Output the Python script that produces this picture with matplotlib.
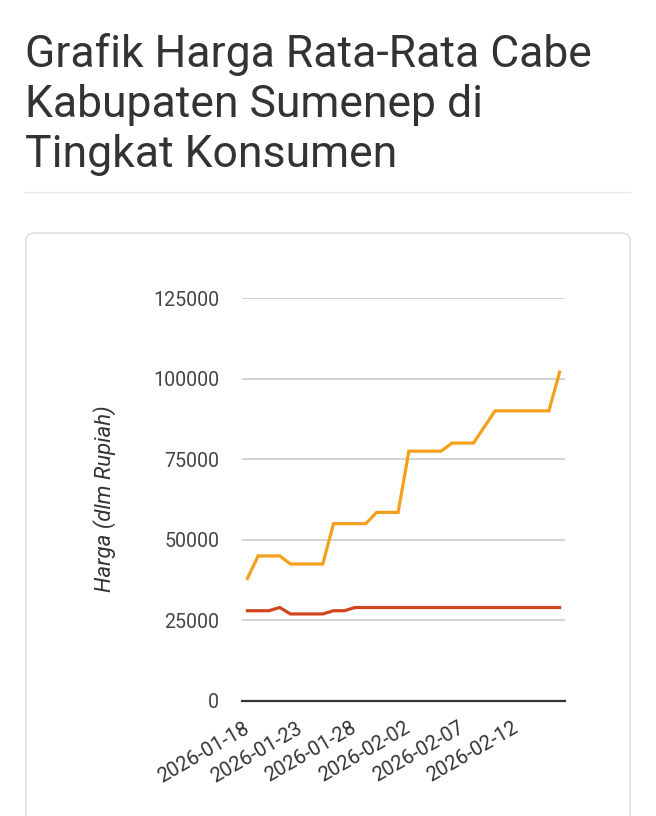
import matplotlib
matplotlib.use("Agg")
import matplotlib.pyplot as plt
from matplotlib.patches import FancyBboxPatch
from matplotlib.lines import Line2D

# ---- data ----
dates = [
    "2026-01-18", "2026-01-19", "2026-01-20", "2026-01-21", "2026-01-22",
    "2026-01-23", "2026-01-24", "2026-01-25", "2026-01-26", "2026-01-27",
    "2026-01-28", "2026-01-29", "2026-01-30", "2026-01-31", "2026-02-01",
    "2026-02-02", "2026-02-03", "2026-02-04", "2026-02-05", "2026-02-06",
    "2026-02-07", "2026-02-08", "2026-02-09", "2026-02-10", "2026-02-11",
    "2026-02-12", "2026-02-13", "2026-02-14", "2026-02-15", "2026-02-16",
]
cabe_rawit = [
    38000, 45000, 45000, 45000, 42500, 42500, 42500, 42500, 55000, 55000,
    55000, 55000, 58500, 58500, 58500, 77500, 77500, 77500, 77500, 80000,
    80000, 80000, 85000, 90000, 90000, 90000, 90000, 90000, 90000, 102000,
]
cabe_merah = [
    28000, 28000, 28000, 29000, 27000, 27000, 27000, 27000, 28000, 28000,
    29000, 29000, 29000, 29000, 29000, 29000, 29000, 29000, 29000, 29000,
    29000, 29000, 29000, 29000, 29000, 29000, 29000, 29000, 29000, 29000,
]
y_ticks = [0, 25000, 50000, 75000, 100000, 125000]
x_tick_idx = [0, 5, 10, 15, 20, 25]
title_lines = ["Grafik Harga Rata-Rata Cabe", "Kabupaten Sumenep di", "Tingkat Konsumen"]
y_label = "Harga (dlm Rupiah)"

W, H = 656, 816
fig = plt.figure(figsize=(W / 100, H / 100), dpi=100)
fig.patch.set_facecolor("white")

def fx(px):
    return px / W

def fy(py):
    return 1 - py / H

# title
for i, line in enumerate(title_lines):
    fig.text(fx(25), fy(66.7 + 50 * i), line, family="Roboto", fontsize=32,
             color="#333333", ha="left", va="baseline")

# separator
fig.add_artist(Line2D([fx(24), fx(630)], [fy(192), fy(192)], color="#e8e8e8",
                      lw=1.0, transform=fig.transFigure))

# card (behind the axes)
card = FancyBboxPatch((fx(26), fy(840)), fx(604), fy(233) - fy(840),
                      boxstyle="round,pad=0,rounding_size=0.012",
                      transform=fig.transFigure, facecolor="white",
                      edgecolor="#dcdcdc", lw=1.0, mutation_aspect=W / H,
                      zorder=-10)
fig.add_artist(card)

# axes
ax = fig.add_axes([fx(242), fy(701), fx(565) - fx(242), fy(298) - fy(701)])
ax.set_zorder(5)
ax.set_facecolor("none")
x = list(range(len(dates)))
ax.plot(x, cabe_rawit, color="#f4a01c", lw=2.3, solid_joinstyle="miter", zorder=3)
ax.plot(x, cabe_merah, color="#d0461f", lw=2.3, solid_joinstyle="miter", zorder=3)

ax.set_xlim(-0.5, len(dates) - 0.5)
ax.set_ylim(0, 125000)
ax.set_yticks(y_ticks)
ax.set_yticklabels([str(v) for v in y_ticks])
ax.grid(axis="y", color="#cccccc", lw=1.2)
ax.set_axisbelow(True)
for s in ["top", "left", "right"]:
    ax.spines[s].set_visible(False)
ax.spines["bottom"].set_color("#333333")
ax.spines["bottom"].set_linewidth(1.6)
ax.spines["bottom"].set_zorder(4)

ax.tick_params(axis="y", length=0, pad=16.5, labelsize=14.1, labelcolor="#444444")
ax.tick_params(axis="x", length=0, pad=18.5, labelsize=14.6, labelcolor="#333333")
for lab in ax.get_yticklabels():
    lab.set_family("Roboto")

ax.set_xticks(x_tick_idx)
ax.set_xticklabels([dates[i] for i in x_tick_idx])
for lab in ax.get_xticklabels():
    lab.set_family("Roboto")
    lab.set_rotation(30)
    lab.set_ha("right")
    lab.set_va("center")
    lab.set_rotation_mode("anchor")

ax.set_ylabel(y_label, family="Roboto", style="italic", fontsize=16,
              color="#333333", va="center")
ax.yaxis.set_label_coords((105 - 242) / 323, (701 - 499) / 403)

fig.savefig("out.png", dpi=100, facecolor="white")
